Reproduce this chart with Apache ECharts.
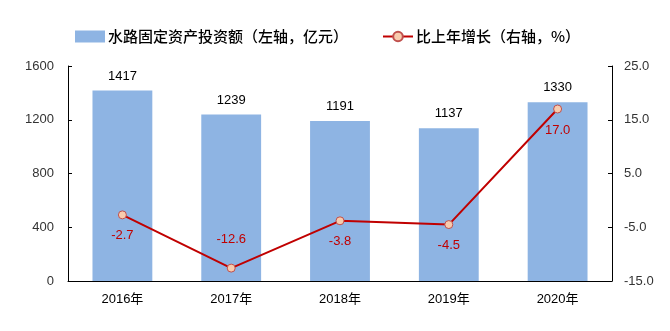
<!DOCTYPE html>
<html>
<head>
<meta charset="utf-8">
<script src="https://cdn.jsdelivr.net/npm/echarts@6/dist/echarts.min.js"></script>
<style>
  html, body { margin: 0; padding: 0; background: #fff; }
  #chart { width: 670px; height: 331px; }
</style>
</head>
<body>
<div id="chart"></div>
<script>
// Waterway fixed-asset investment (100M yuan) and year-on-year growth (%)
const years = ['2016年', '2017年', '2018年', '2019年', '2020年'];
const investment = [1417, 1239, 1191, 1137, 1330];
const growth = [-2.7, -12.6, -3.8, -4.5, 17.0];
// label side for each growth point
const growthLabelPos = ['bottom', 'top', 'bottom', 'bottom', 'bottom'];

const FONT = '"Liberation Sans", Arial, "Noto Sans CJK SC", sans-serif';

const chart = echarts.init(document.getElementById('chart'));
chart.setOption({
  animation: false,
  textStyle: { fontFamily: FONT },
  legend: {
    top: 24,
    left: 70,
    itemGap: 34,
    itemWidth: 30,
    itemHeight: 12,
    textStyle: { fontSize: 15, fontWeight: 500, color: '#000', padding: [0, 0, 0, -2],
                 fontFamily: '"Noto Sans CJK SC", sans-serif' },
    data: [
      { name: '水路固定资产投资额（左轴，亿元）', icon: 'rect' },
      { name: '比上年增长（右轴，%）' }
    ]
  },
  grid: { left: 68, right: 58, top: 66, bottom: 50, containLabel: false },
  xAxis: {
    type: 'category',
    data: years,
    axisLine: { lineStyle: { color: '#000' } },
    axisTick: { show: false },
    axisLabel: { color: '#000', fontSize: 13, margin: 12, fontFamily: FONT }
  },
  yAxis: [
    {
      type: 'value', min: 0, max: 1600, interval: 400,
      axisLine: { show: true, lineStyle: { color: '#000' } },
      axisTick: { show: true, inside: true, length: 4, lineStyle: { color: '#000' } },
      splitLine: { show: false },
      axisLabel: { color: '#333', fontSize: 13, margin: 14, formatter: v => String(v) }
    },
    {
      type: 'value', min: -15, max: 25, interval: 10,
      axisLine: { show: true, lineStyle: { color: '#000' } },
      axisTick: { show: true, inside: true, length: 4, lineStyle: { color: '#000' } },
      splitLine: { show: false },
      axisLabel: { color: '#333', fontSize: 13, margin: 12, formatter: v => v.toFixed(1) }
    }
  ],
  series: [
    {
      name: '水路固定资产投资额（左轴，亿元）',
      type: 'bar',
      data: investment,
      barWidth: '55%',
      itemStyle: { color: '#8EB4E3' },
      label: { show: true, position: 'top', distance: 8, color: '#000', fontSize: 13 }
    },
    {
      name: '比上年增长（右轴，%）',
      type: 'line',
      yAxisIndex: 1,
      data: growth.map((v, i) => ({
        value: v,
        label: { position: growthLabelPos[i], distance: growthLabelPos[i] === 'top' ? 18 : 10 }
      })),
      symbol: 'circle',
      symbolSize: 8,
      lineStyle: { color: '#C00000', width: 2 },
      itemStyle: { color: '#F8CBAD', borderColor: '#C0504D', borderWidth: 1 },
      label: {
        show: true, color: '#C00000', fontSize: 13,
        formatter: p => p.value.toFixed(1)
      }
    }
  ]
});
</script>
</body>
</html>
